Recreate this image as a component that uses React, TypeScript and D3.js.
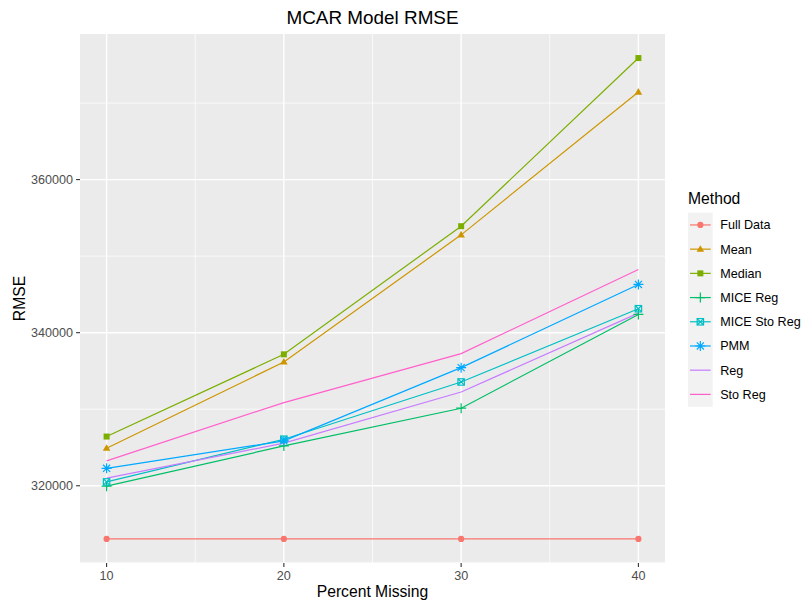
import React from "react";
import * as d3 from "d3";

// Percent of values removed completely at random
const percents = [10, 20, 30, 40];

// RMSE per imputation method
const methods = ["Full Data", "Mean", "Median", "MICE Reg", "MICE Sto Reg", "PMM", "Reg", "Sto Reg"];
const fullData = [313050, 313050, 313050, 313050];
const meanImp = [324900, 336170, 352780, 371440];
const medianImp = [326430, 337170, 353910, 375880];
const miceReg = [319950, 325200, 330130, 342380];
const miceStoReg = [320500, 326080, 333560, 343130];
const pmm = [322280, 325860, 335430, 346300];
const reg = [321000, 325560, 332250, 342550];
const stoReg = [323250, 330870, 337260, 348260];

const yTicks = [320000, 340000, 360000];
const yMinor = [310000, 330000, 350000, 370000];
const xMinor = [15, 25, 35];

const seriesValues = [fullData, meanImp, medianImp, miceReg, miceStoReg, pmm, reg, stoReg];
const colors = ["#F8766D", "#CD9600", "#7CAE00", "#00BE67", "#00BFC4", "#00A9FF", "#C77CFF", "#FF61CC"];
const shapes = ["circle", "triangle", "square", "plus", "boxcross", "asterisk", null, null];

const W = 802;
const H = 602;
const panel = { left: 80, right: 665, top: 34, bottom: 563 };
const font = "'Liberation Sans', Arial, Helvetica, sans-serif";

function Marker({ shape, x, y, color }: { shape: string | null; x: number; y: number; color: string }) {
  if (!shape) return null;
  const s = 3.2;
  switch (shape) {
    case "circle":
      return <circle cx={x} cy={y} r={3.1} fill={color} />;
    case "triangle":
      return <path d={`M${x},${y - 4} L${x + 3.8},${y + 2.6} L${x - 3.8},${y + 2.6} Z`} fill={color} />;
    case "square":
      return <rect x={x - 3} y={y - 3} width={6} height={6} fill={color} />;
    case "plus":
      return (
        <path d={`M${x - 5},${y} H${x + 5} M${x},${y - 5} V${y + 5}`} stroke={color} strokeWidth={1.2} fill="none" />
      );
    case "boxcross":
      return (
        <g stroke={color} strokeWidth={1.2} fill="none">
          <rect x={x - s} y={y - s} width={2 * s} height={2 * s} />
          <path d={`M${x - s},${y - s} L${x + s},${y + s} M${x + s},${y - s} L${x - s},${y + s}`} />
        </g>
      );
    case "asterisk": {
      const r = 5;
      const d = r * 0.707;
      return (
        <path
          d={`M${x - r},${y} H${x + r} M${x - d},${y - d} L${x + d},${y + d} M${x + d},${y - d} L${x - d},${y + d} M${x},${y - r} V${y + r}`}
          stroke={color}
          strokeWidth={1.2}
          fill="none"
        />
      );
    }
  }
  return null;
}

export default function App() {
  const allVals = seriesValues.flat();
  const yMin = d3.min(allVals)!;
  const yMax = d3.max(allVals)!;
  const yPad = (yMax - yMin) * 0.05;
  const xPad = (d3.max(percents)! - d3.min(percents)!) * 0.05;

  const x = d3
    .scaleLinear()
    .domain([d3.min(percents)! - xPad, d3.max(percents)! + xPad])
    .range([panel.left, panel.right]);
  const y = d3
    .scaleLinear()
    .domain([yMin - yPad, yMax + yPad])
    .range([panel.bottom, panel.top]);

  const line = d3
    .line<number>()
    .x((_, i) => x(percents[i]))
    .y((v) => y(v));

  const legendX = 688;
  const keySize = 24.7;
  const keyTop = 212.6;

  return (
    <svg width={W} height={H} style={{ position: "absolute", left: 0, top: 0, display: "block" }} fontFamily={font}>
      <rect x={0} y={0} width={W} height={H} fill="#ffffff" />
      <rect x={panel.left} y={panel.top} width={panel.right - panel.left} height={panel.bottom - panel.top} fill="#EBEBEB" />

      {/* minor grid */}
      {yMinor.map((v) => (
        <line key={`ym${v}`} x1={panel.left} x2={panel.right} y1={y(v)} y2={y(v)} stroke="#fff" strokeWidth={0.7} />
      ))}
      {xMinor.map((v) => (
        <line key={`xm${v}`} x1={x(v)} x2={x(v)} y1={panel.top} y2={panel.bottom} stroke="#fff" strokeWidth={0.7} />
      ))}
      {/* major grid */}
      {yTicks.map((v) => (
        <line key={`yg${v}`} x1={panel.left} x2={panel.right} y1={y(v)} y2={y(v)} stroke="#fff" strokeWidth={1.4} />
      ))}
      {percents.map((v) => (
        <line key={`xg${v}`} x1={x(v)} x2={x(v)} y1={panel.top} y2={panel.bottom} stroke="#fff" strokeWidth={1.4} />
      ))}

      {/* series lines */}
      {seriesValues.map((vals, i) => (
        <path key={`l${i}`} d={line(vals)!} fill="none" stroke={colors[i]} strokeWidth={1.2} />
      ))}
      {/* series markers */}
      {seriesValues.map((vals, i) =>
        vals.map((v, j) => (
          <Marker key={`m${i}-${j}`} shape={shapes[i]} x={x(percents[j])} y={y(v)} color={colors[i]} />
        ))
      )}

      {/* y axis */}
      {yTicks.map((v) => (
        <g key={`yt${v}`}>
          <line x1={panel.left - 3.9} x2={panel.left} y1={y(v)} y2={y(v)} stroke="#333333" strokeWidth={1.1} />
          <text x={panel.left - 7} y={y(v)} dy="0.35em" textAnchor="end" fontSize={12.6} fill="#4D4D4D">
            {v}
          </text>
        </g>
      ))}
      {/* x axis */}
      {percents.map((v) => (
        <g key={`xt${v}`}>
          <line x1={x(v)} x2={x(v)} y1={panel.bottom} y2={panel.bottom + 3.9} stroke="#333333" strokeWidth={1.1} />
          <text x={x(v)} y={panel.bottom + 17} textAnchor="middle" fontSize={12.6} fill="#4D4D4D">
            {v}
          </text>
        </g>
      ))}

      <text x={(panel.left + panel.right) / 2} y={597} textAnchor="middle" fontSize={15.7} fill="#000">
        Percent Missing
      </text>
      <text
        transform={`translate(25,${(panel.top + panel.bottom) / 2}) rotate(-90)`}
        textAnchor="middle"
        fontSize={15.7}
        fill="#000"
      >
        RMSE
      </text>
      <text x={(panel.left + panel.right) / 2} y={24} textAnchor="middle" fontSize={18.9} fill="#000">
        MCAR Model RMSE
      </text>

      {/* legend */}
      <text x={legendX} y={204} fontSize={15.7} fill="#000">
        Method
      </text>
      {methods.map((m, i) => {
        const top = keyTop + i * keySize * 0.98;
        const cy = top + keySize / 2;
        const cx = legendX + keySize / 2;
        return (
          <g key={`lg${m}`}>
            <rect x={legendX} y={top} width={keySize} height={keySize * 0.98 + 0.5} fill="#F2F2F2" />
            <line x1={legendX + 2} x2={legendX + keySize - 2} y1={cy} y2={cy} stroke={colors[i]} strokeWidth={1.2} />
            <Marker shape={shapes[i]} x={cx} y={cy} color={colors[i]} />
            <text x={legendX + keySize + 7.5} y={cy} dy="0.35em" fontSize={12.6} fill="#000">
              {m}
            </text>
          </g>
        );
      })}
    </svg>
  );
}
